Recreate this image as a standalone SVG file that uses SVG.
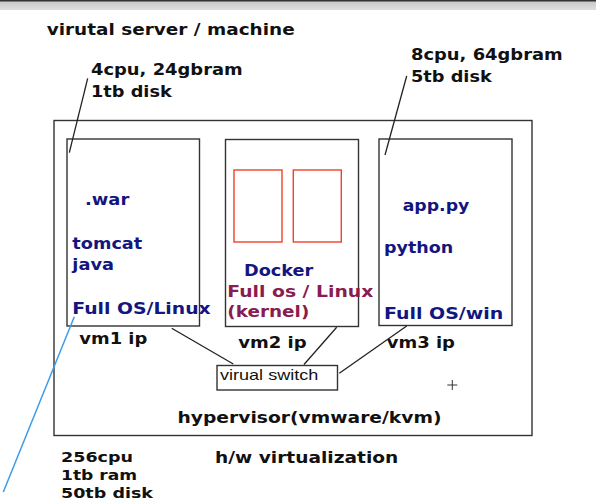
<svg xmlns="http://www.w3.org/2000/svg" width="596" height="502" viewBox="0 0 596 502">
<defs>
<linearGradient id="bar" x1="0" y1="0" x2="0" y2="1">
<stop offset="0" stop-color="#c4c4c4"/>
<stop offset="1" stop-color="#dedede"/>
</linearGradient>
</defs>
<style>
.t{font-family:"DejaVu Sans",Verdana,sans-serif;font-weight:bold;font-size:16px;fill:#111}
.s{font-size:14.5px}
.b{fill:#14167f}
.m{fill:#8a1c50}
.box{fill:none;stroke:#333;stroke-width:1.4}
.red{fill:none;stroke:#f0402a;stroke-width:1.4}
.ln{fill:none;stroke:#222;stroke-width:1.3}
.sw{font-family:"Liberation Sans",Arial,sans-serif;font-size:15px;fill:#111}
</style>
<rect x="0" y="0" width="596" height="502" fill="#ffffff"/>
<rect x="0" y="0" width="596" height="10" fill="url(#bar)"/>
<rect x="0" y="0" width="596" height="1.5" fill="#333"/>

<text class="t" x="46.7" y="35" textLength="248" lengthAdjust="spacingAndGlyphs">virutal server / machine</text>

<g id="hypervisor">
<rect class="box" x="54" y="120.5" width="478" height="315"/>
<text class="t" x="177.5" y="423" textLength="264" lengthAdjust="spacingAndGlyphs">hypervisor(vmware/kvm)</text>
</g>

<g id="vm1">
<rect class="box" x="67" y="139" width="132.5" height="187"/>
<text class="t b" x="85" y="205" textLength="44.3" lengthAdjust="spacingAndGlyphs">.war</text>
<text class="t b" x="72.3" y="249" textLength="70" lengthAdjust="spacingAndGlyphs">tomcat</text>
<text class="t b" x="72.3" y="269.5" textLength="41.7" lengthAdjust="spacingAndGlyphs">java</text>
<text class="t b" x="72.3" y="314.3" textLength="138.4" lengthAdjust="spacingAndGlyphs">Full OS/Linux</text>
<text class="t" x="79.3" y="344.3" textLength="68" lengthAdjust="spacingAndGlyphs">vm1 ip</text>
</g>

<g id="vm2">
<rect class="box" x="225.5" y="139.5" width="133" height="187"/>
<rect class="red" x="234" y="170" width="48" height="72"/>
<rect class="red" x="293.3" y="170" width="48" height="72"/>
<text class="t b" x="244" y="275.7" textLength="69.3" lengthAdjust="spacingAndGlyphs">Docker</text>
<text class="t m" x="227.3" y="296.7" textLength="146" lengthAdjust="spacingAndGlyphs">Full os / Linux</text>
<text class="t m" x="227.3" y="316.7" textLength="82" lengthAdjust="spacingAndGlyphs">(kernel)</text>
<text class="t" x="238.3" y="348.3" textLength="68.4" lengthAdjust="spacingAndGlyphs">vm2 ip</text>
</g>

<g id="vm3">
<rect class="box" x="379" y="139" width="133" height="186.5"/>
<text class="t b" x="402.7" y="211" textLength="66.6" lengthAdjust="spacingAndGlyphs">app.py</text>
<text class="t b" x="384" y="253.3" textLength="69.3" lengthAdjust="spacingAndGlyphs">python</text>
<text class="t b" x="384" y="319" textLength="119.3" lengthAdjust="spacingAndGlyphs">Full OS/win</text>
<text class="t" x="386.7" y="348.3" textLength="68.3" lengthAdjust="spacingAndGlyphs">vm3 ip</text>
</g>

<g id="switch">
<rect class="box" x="217" y="365.5" width="120.5" height="24.5"/>
<text class="sw" x="220" y="379.5" textLength="98.3" lengthAdjust="spacingAndGlyphs">virual switch</text>
</g>

<g id="vm1-spec">
<text class="t" x="91" y="75" textLength="151.7" lengthAdjust="spacingAndGlyphs">4cpu, 24gbram</text>
<text class="t" x="91" y="96.7" textLength="80.7" lengthAdjust="spacingAndGlyphs">1tb disk</text>
</g>

<g id="vm3-spec">
<text class="t" x="411" y="60" textLength="151.7" lengthAdjust="spacingAndGlyphs">8cpu, 64gbram</text>
<text class="t" x="411" y="81.7" textLength="80.7" lengthAdjust="spacingAndGlyphs">5tb disk</text>
</g>

<g id="host-spec">
<text class="t s" x="61" y="461.5" textLength="72" lengthAdjust="spacingAndGlyphs">256cpu</text>
<text class="t s" x="61" y="479.5" textLength="76" lengthAdjust="spacingAndGlyphs">1tb ram</text>
<text class="t s" x="61" y="497.5" textLength="92" lengthAdjust="spacingAndGlyphs">50tb disk</text>
</g>

<g id="hw-label">
<text class="t" x="215" y="463.3" textLength="183.3" lengthAdjust="spacingAndGlyphs">h/w virtualization</text>
</g>

<g id="connectors">
<line class="ln" x1="171.7" y1="328.3" x2="233.3" y2="364"/>
<line class="ln" x1="336.7" y1="327.3" x2="304" y2="364.5"/>
<line class="ln" x1="406.7" y1="326" x2="339.3" y2="373.3"/>
<line class="ln" x1="87.7" y1="78.3" x2="69.3" y2="152.7"/>
<line class="ln" x1="406.7" y1="76" x2="385" y2="155"/>
<line x1="74.3" y1="316.7" x2="3.3" y2="492" stroke="#3d9be9" stroke-width="1.5"/>
<path d="M447.3 385H457.3M452.3 380V390" fill="none" stroke="#333" stroke-width="1"/>
</g>
</svg>
